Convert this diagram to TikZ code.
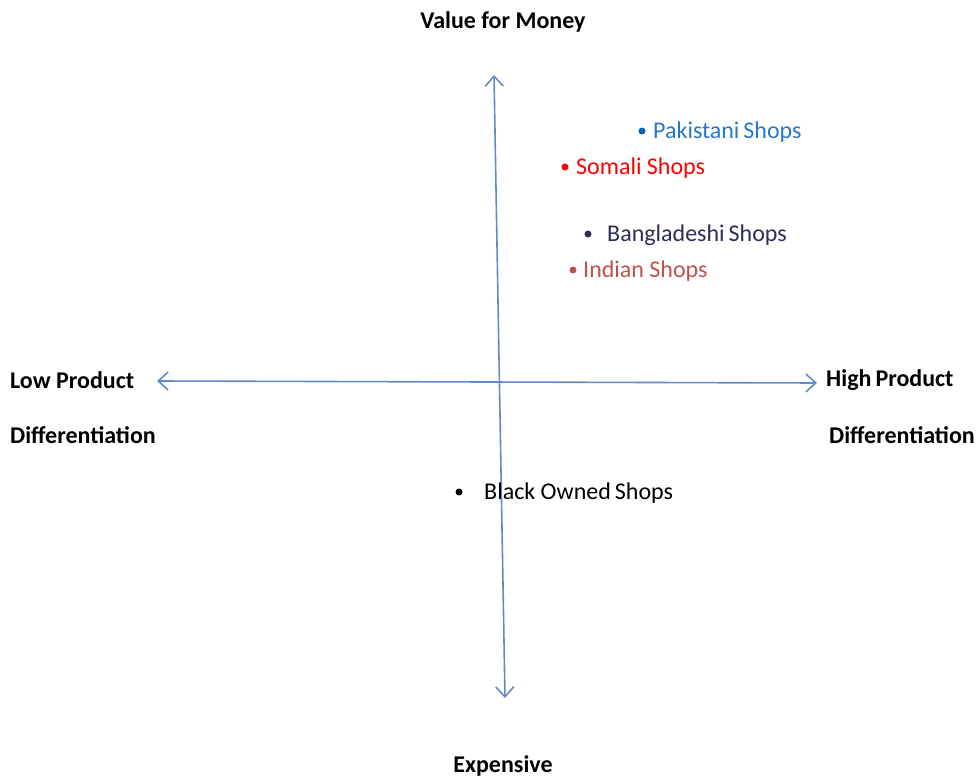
\documentclass[tikz,border=0pt]{standalone}
\usepackage{fontspec}
\setmainfont{Carlito}
\usetikzlibrary{arrows.meta}
\definecolor{axisblue}{RGB}{95,140,200}
\definecolor{pakblue}{RGB}{40,120,200}
\definecolor{pakdot}{RGB}{0,100,190}
\definecolor{somred}{RGB}{255,0,0}
\definecolor{bangnavy}{RGB}{45,45,85}
\definecolor{indred}{RGB}{192,80,77}
\tikzset{
  axis/.style={draw=axisblue, line width=1.6pt, -{Straight Barb[length=10pt,width=18pt,line width=1.6pt]}},
  axislabel/.style={font=\fontsize{24}{28}\selectfont\bfseries, inner sep=0pt},
  shoplabel/.style={font=\fontsize{24}{28}\selectfont, inner sep=0pt, anchor=west},
  shopdot/.style={circle, inner sep=0pt, minimum size=7pt}
}
\begin{document}
\begin{tikzpicture}[x=1pt,y=-1pt]
\useasboundingbox (0,0) rectangle (980,778);
% axis end coordinates
\coordinate (vtop) at (494,75);
\coordinate (vbot) at (505,698);
\coordinate (hleft) at (157,381);
\coordinate (hright) at (817,383);
\coordinate (vmid) at (499.5,386.5);
\coordinate (hmid) at (487,382);
\draw[axis] (vmid) -- (vtop);
\draw[axis] (vmid) -- (vbot);
\draw[axis] (hmid) -- (hleft);
\draw[axis] (hmid) -- (hright);
% axis labels
\node[axislabel] (top) at (503,22) {Value for Money};
\node[axislabel] (bottom) at (503,766) {Expensive};
\node[axislabel, anchor=west] (low1) at (10,380) {Low Product};
\node[axislabel, anchor=west] (low2) at (10,435) {Differentiation};
\node[axislabel, anchor=west] (high1) at (826,380) {High\,Product};
\node[axislabel, anchor=west] (high2) at (829,435) {Differentiation};
% shops
\node[shopdot, fill=pakdot] (pakd) at (642,131) {};
\node[shoplabel, text=pakblue] (pak) at (653,132) {Pakistani\,Shops};
\node[shopdot, fill=somred] (somd) at (565,167) {};
\node[shoplabel, text=somred] (som) at (576,168) {Somali Shops};
\node[shopdot, fill=bangnavy] (bangd) at (588,234) {};
\node[shoplabel, text=bangnavy] (bang) at (607,235) {Bangladeshi\,Shops};
\node[shopdot, fill=indred] (indd) at (573,270) {};
\node[shoplabel, text=indred] (ind) at (583,271) {Indian Shops};
\node[shopdot, fill=black] (blkd) at (459,492) {};
\node[shoplabel, text=black] (blk) at (484,493) {Black Owned\,Shops};
\end{tikzpicture}
\end{document}
